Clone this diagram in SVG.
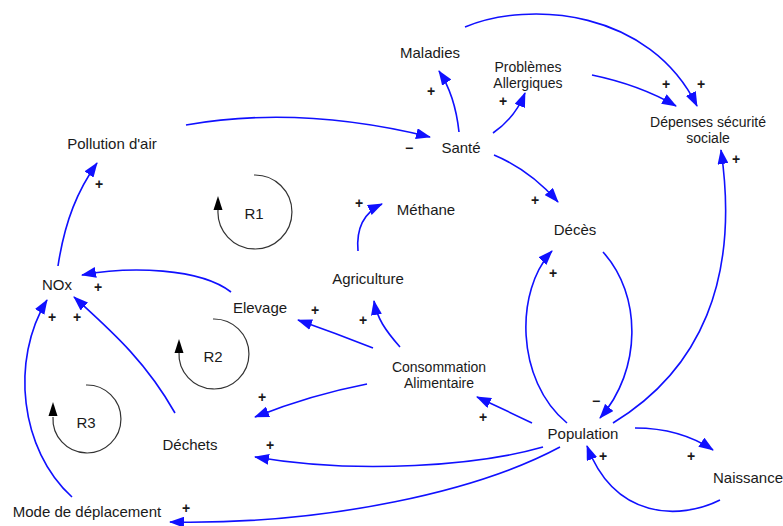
<svg xmlns="http://www.w3.org/2000/svg" width="783" height="526" viewBox="0 0 783 526">
<style>
  .lbl { font-family: "Liberation Sans", Arial, sans-serif; font-size: 15px; fill: #1a1a1a; text-anchor: middle; }
  .lbl2 { font-family: "Liberation Sans", Arial, sans-serif; font-size: 14px; fill: #1a1a1a; text-anchor: middle; }
  .sgn { font-family: "Liberation Sans", Arial, sans-serif; font-size: 14px; font-weight: bold; fill: #1a1a1a; text-anchor: middle; }
  .lnk { fill: none; stroke: #1010ff; stroke-width: 1.6; marker-end: url(#ah); }
  .loop { fill: none; stroke: #333; stroke-width: 1.2; }
  .loopHead { fill: #000; }
</style>
<defs>
  <marker id="ah" markerWidth="15" markerHeight="11" refX="14" refY="5.5" orient="auto" markerUnits="userSpaceOnUse">
    <path d="M0,0 L15,5.5 L0,11 z" fill="#1010ff"/>
  </marker>
</defs>
<rect width="783" height="526" fill="#fff"/>

<g id="connectors">
  <path class="lnk" d="M186,125 Q300,105 430,137"/>
  <path class="lnk" d="M459,132 Q455,95 439,71"/>
  <path class="lnk" d="M493,133 Q515,118 525,93"/>
  <path class="lnk" d="M494,155 Q530,170 558,202"/>
  <path class="lnk" d="M465,27 C530,0 650,10 697,106"/>
  <path class="lnk" d="M592,75 Q640,85 676,106"/>
  <path class="lnk" d="M613,423 C700,370 740,280 721,150"/>
  <path class="lnk" d="M567,423 C515,380 515,290 552,251"/>
  <path class="lnk" d="M603,252 C642,295 642,370 600,418"/>
  <path class="lnk" d="M635,428 Q680,428 713,450"/>
  <path class="lnk" d="M720,500 C680,520 615,520 587,446"/>
  <path class="lnk" d="M532,423 Q505,410 477,397"/>
  <path class="lnk" d="M543,447 C480,465 360,475 255,457"/>
  <path class="lnk" d="M560,447 C480,490 330,525 170,522"/>
  <path class="lnk" d="M373,348 Q335,333 298,320"/>
  <path class="lnk" d="M400,347 C385,330 377,318 374,301"/>
  <path class="lnk" d="M358,251 C356,228 365,212 382,204"/>
  <path class="lnk" d="M367,384 Q310,395 255,417"/>
  <path class="lnk" d="M231,292 C200,268 130,266 82,275"/>
  <path class="lnk" d="M175,413 C145,360 110,330 74,297"/>
  <path class="lnk" d="M72,497 C20,450 10,360 47,300"/>
  <path class="lnk" d="M58,266 C65,220 78,190 97,163"/>
</g>

<g id="polarities">
  <text class="sgn" x="409" y="153">−</text>
  <text class="sgn" x="431" y="96">+</text>
  <text class="sgn" x="503" y="106">+</text>
  <text class="sgn" x="535" y="205">+</text>
  <text class="sgn" x="701" y="89">+</text>
  <text class="sgn" x="666" y="89">+</text>
  <text class="sgn" x="736" y="164">+</text>
  <text class="sgn" x="553" y="278">+</text>
  <text class="sgn" x="596" y="406">−</text>
  <text class="sgn" x="691" y="461">+</text>
  <text class="sgn" x="603" y="461">+</text>
  <text class="sgn" x="483" y="422">+</text>
  <text class="sgn" x="270" y="450">+</text>
  <text class="sgn" x="186" y="513">+</text>
  <text class="sgn" x="315" y="315">+</text>
  <text class="sgn" x="363" y="325">+</text>
  <text class="sgn" x="359" y="208">+</text>
  <text class="sgn" x="262" y="402">+</text>
  <text class="sgn" x="98" y="292">+</text>
  <text class="sgn" x="77" y="322">+</text>
  <text class="sgn" x="52" y="322">+</text>
  <text class="sgn" x="99" y="189">+</text>
</g>

<g id="loop-R1">
  <path class="loop" d="M254,175 A37,37 0 1 1 218,210"/>
  <path class="loopHead" d="M218,196 L213.5,210 L222.5,210 z"/>
  <text class="lbl" x="254" y="219">R1</text>
</g>
<g id="loop-R2">
  <path class="loop" d="M213,319 A35,35 0 1 1 179,352"/>
  <path class="loopHead" d="M179,339 L174.5,353 L183.5,353 z"/>
  <text class="lbl" x="213" y="362">R2</text>
</g>
<g id="loop-R3">
  <path class="loop" d="M86,385 A34,34 0 1 1 53,417"/>
  <path class="loopHead" d="M53,402 L48.5,416 L57.5,416 z"/>
  <text class="lbl" x="86" y="428">R3</text>
</g>

<g id="node-maladies"><text class="lbl" x="430" y="58">Maladies</text></g>
<g id="node-problemes"><text class="lbl2" x="528" y="72">Problèmes</text><text class="lbl2" x="528" y="88">Allergiques</text></g>
<g id="node-depenses"><text class="lbl2" x="708" y="127">Dépenses sécurité</text><text class="lbl2" x="708" y="143">sociale</text></g>
<g id="node-sante"><text class="lbl" x="461" y="153">Santé</text></g>
<g id="node-pollution"><text class="lbl" x="112" y="149">Pollution d'air</text></g>
<g id="node-methane"><text class="lbl" x="426" y="215">Méthane</text></g>
<g id="node-deces"><text class="lbl" x="575" y="235">Décès</text></g>
<g id="node-agriculture"><text class="lbl" x="368" y="284">Agriculture</text></g>
<g id="node-nox"><text class="lbl" x="57" y="290">NOx</text></g>
<g id="node-elevage"><text class="lbl" x="260" y="313">Elevage</text></g>
<g id="node-consommation"><text class="lbl2" x="439" y="372">Consommation</text><text class="lbl2" x="439" y="388">Alimentaire</text></g>
<g id="node-population"><text class="lbl" x="583" y="439">Population</text></g>
<g id="node-dechets"><text class="lbl" x="190" y="450">Déchets</text></g>
<g id="node-naissance"><text class="lbl" x="748" y="483">Naissance</text></g>
<g id="node-mode"><text class="lbl" x="87" y="517">Mode de déplacement</text></g>
</svg>
